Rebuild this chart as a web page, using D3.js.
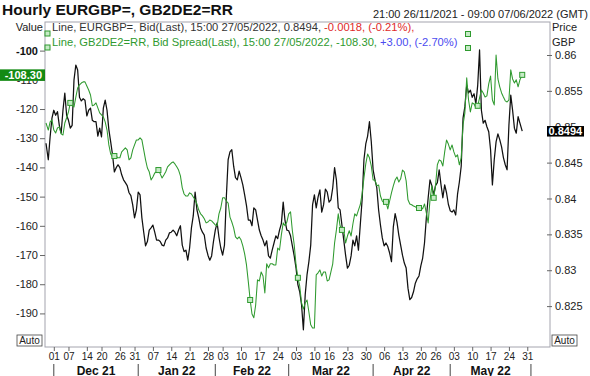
<!DOCTYPE html>
<html><head><meta charset="utf-8">
<script src="https://cdn.jsdelivr.net/npm/d3@7"></script>
<style>body{margin:0;background:#fff}svg{display:block;font-family:Arial,"Liberation Sans",sans-serif}</style>
</head><body><svg id="c" width="590" height="376"></svg>
<script>
// ---------------- DATA ----------------
const rangeStart = "2021-11-26T21:00:00Z";
const rangeEnd   = "2022-06-07T09:00:00Z";
const lastTime   = "2022-05-27T15:00:00Z";
const firstDay = "2021-11-29", lastDay = "2022-05-27";

// Samples: first point, then 00:00 and 12:00 of each trading day, then last point
// EURGBP= Bid (right axis)
const eurgbp = [0.8477,
0.8454,
0.8486,0.8512, 0.8523,0.8516, 0.8521,0.8502, 0.8491,0.8523, 0.8547,0.8516,
0.8509,0.8498, 0.8502,0.8565, 0.8586,0.8579, 0.8541,0.8536, 0.8539,0.8537,
0.8515,0.8523, 0.8526,0.8509, 0.8507,0.8507, 0.8487,0.8498, 0.8486,0.8526,
0.8537,0.8523, 0.8496,0.8479, 0.8461,0.8437, 0.8443,0.8447, 0.8443,0.8433,
0.8426,0.8422, 0.8418,0.8408, 0.8404,0.8391, 0.8373,0.8384, 0.8409,0.8405,
0.8373,0.8353, 0.8334,0.8340, 0.8356,0.8359, 0.8363,0.8353, 0.8342,0.8342,
0.8340,0.8335, 0.8334,0.8342, 0.8345,0.8352, 0.8353,0.8356, 0.8353,0.8348,
0.8356,0.8362, 0.8335,0.8326, 0.8328,0.8314, 0.8331,0.8359, 0.8376,0.8409,
0.8384,0.8373, 0.8359,0.8353, 0.8349,0.8331, 0.8321,0.8314, 0.8320,0.8340,
0.8356,0.8366, 0.8346,0.8331, 0.8321,0.8335, 0.8401,0.8454, 0.8465,0.8468,
0.8445,0.8429, 0.8426,0.8438, 0.8429,0.8419, 0.8405,0.8390, 0.8370,0.8370,
0.8362,0.8387, 0.8384,0.8370, 0.8356,0.8348, 0.8342,0.8334, 0.8341,0.8320,
0.8317,0.8328, 0.8338,0.8348, 0.8344,0.8356, 0.8365,0.8395, 0.8369,0.8356,
0.8355,0.8348, 0.8334,0.8320, 0.8303,0.8280, 0.8270,0.8252, 0.8217,0.8266,
0.8294,0.8312, 0.8335,0.8391, 0.8405,0.8387, 0.8402,0.8412, 0.8381,0.8391,
0.8413,0.8409, 0.8395,0.8398, 0.8415,0.8443, 0.8426,0.8387, 0.8384,0.8363,
0.8342,0.8321, 0.8303,0.8307, 0.8320,0.8342, 0.8334,0.8348, 0.8328,0.8363,
0.8398,0.8454, 0.8476,0.8487, 0.8507,0.8479, 0.8440,0.8426, 0.8415,0.8384,
0.8363,0.8345, 0.8334,0.8338, 0.8333,0.8324, 0.8312,0.8360, 0.8379,0.8367,
0.8349,0.8335, 0.8321,0.8310, 0.8303,0.8275, 0.8259,0.8262, 0.8270,0.8282,
0.8288,0.8292, 0.8306,0.8317, 0.8338,0.8373, 0.8401,0.8426, 0.8418,0.8405,
0.8418,0.8422, 0.8440,0.8419, 0.8401,0.8419, 0.8408,0.8392, 0.8383,0.8381,
0.8384,0.8377, 0.8406,0.8423, 0.8445,0.8512, 0.8528,0.8558, 0.8547,0.8551,
0.8541,0.8546, 0.8532,0.8558, 0.8607,0.8523, 0.8505,0.8509, 0.8500,0.8493,
0.8468,0.8419, 0.8454,0.8479, 0.8490,0.8482, 0.8472,0.8457, 0.8447,0.8440,
0.8502,0.8544, 0.8523,0.8498, 0.8491,0.8514,
0.8505,
0.8494];

// GB2DE2=RR Bid Spread (left axis)
const spread = [-124.8,
-127.2,
-124.4,-123.7, -127.2,-128.2, -126.5,-126.1, -128.5,-128.9, -124.8,-123.0,
-121.0,-117.9, -118.9,-119.3, -115.9,-112.8, -111.7,-111.1, -110.7,-110.7,
-112.1,-113.5, -115.2,-118.9, -118.6,-117.9, -119.6,-121.3, -122.0,-122.7,
-124.4,-127.2, -132.3,-135.4, -136.4,-136.1, -136.1,-136.7, -136.7,-134.7,
-134.0,-133.3, -134.0,-137.4, -136.7,-134.0, -132.3,-130.6, -130.6,-129.9,
-130.6,-134.0, -137.4,-140.2, -141.5,-144.3, -143.3,-141.9, -141.5,-140.9,
-142.2,-143.6, -142.6,-141.5, -139.8,-139.1, -138.5,-138.1, -138.8,-139.8,
-140.9,-142.9, -147.0,-149.1, -149.8,-149.8, -148.7,-149.1, -150.1,-151.1,
-152.5,-154.6, -155.9,-156.6, -157.6,-159.0, -158.7,-158.0, -158.3,-159.0,
-159.7,-160.0, -155.9,-153.9, -150.4,-150.4, -151.5,-152.2, -157.0,-158.7,
-160.7,-163.8, -164.5,-163.8, -164.8,-166.9, -169.6,-173.4, -179.2,-185.4,
-190.2,-191.5, -187.1,-178.5, -178.9,-175.8, -177.2,-183.0, -173.0,-174.4,
-173.0,-173.0, -173.4,-173.4, -167.6,-168.3, -163.1,-159.0, -160.0,-158.7,
-155.9,-155.2, -161.7,-166.5, -173.4,-177.8, -180.6,-186.4, -188.5,-186.4,
-185.4,-189.5, -193.9,-195.0, -195.0,-176.8, -176.1,-175.1, -177.2,-175.8,
-175.8,-178.9, -178.5,-175.8, -173.0,-165.9, -161.4,-155.9, -160.0,-161.4,
-161.4,-165.9, -163.5,-161.7, -163.5,-159.3, -155.9,-156.6, -154.6,-152.8,
-149.1,-143.6, -138.8,-135.4, -136.7,-139.5, -144.3,-144.3, -146.3,-146.0,
-149.8,-151.5, -152.2,-151.8, -154.2,-151.5, -148.7,-146.3, -144.3,-143.3,
-145.0,-143.9, -140.9,-141.5, -144.6,-151.1, -152.5,-152.8, -153.2,-153.5,
-153.9,-153.9, -153.5,-154.2, -152.5,-155.6, -159.0,-151.1, -146.3,-150.4,
-146.3,-139.1, -137.4,-137.8, -139.5,-134.7, -130.6,-132.0, -134.0,-132.3,
-134.7,-136.4, -135.7,-139.1, -136.7,-125.4, -121.3,-109.3, -116.9,-121.0,
-117.9,-118.3, -119.6,-118.9, -116.2,-113.5, -114.5,-115.9, -115.5,-111.4,
-108.7,-116.9, -118.6,-101.5, -109.7,-112.4, -114.5,-115.9, -117.2,-117.6,
-116.9,-106.6, -109.7,-111.1, -110.0,-112.4,
-110.0,
-108.3];
const spreadMarkerIdx = [13,37,61,111,137,161,185,203,211,235,259];

const leftTicks  = [-100,-110,-120,-130,-140,-150,-160,-170,-180,-190];
const rightTicks = [0.825,0.83,0.835,0.84,0.845,0.85,0.855,0.86];
const dayTicks = ["2021-12-01","2021-12-07","2021-12-14","2021-12-20","2021-12-26","2021-12-31",
 "2022-01-07","2022-01-14","2022-01-21","2022-01-28","2022-02-03","2022-02-10","2022-02-17","2022-02-24",
 "2022-03-03","2022-03-10","2022-03-16","2022-03-23","2022-03-30","2022-04-06","2022-04-13","2022-04-20","2022-04-26",
 "2022-05-03","2022-05-10","2022-05-17","2022-05-24","2022-05-31"];
const monthStarts = ["2021-12-01","2022-01-01","2022-02-01","2022-03-01","2022-04-01","2022-05-01","2022-06-01"];
const monthLabels = ["Dec 21","Jan 22","Feb 22","Mar 22","Apr 22","May 22"];

const lastEur = "0.8494", lastSpread = "-108.30";

// ---------------- TRADING-TIME INDEX (weekends removed) ----------------
const origin = new Date("2021-12-01T00:00:00Z");
const isWeekday = d => d.getUTCDay() % 6 !== 0;
function countWeekdays(a, b) {
  if (b >= a) return d3.utcDay.range(a, b).filter(isWeekday).length;
  return -d3.utcDay.range(b, a).filter(isWeekday).length;
}
function tIndex(d) {
  const day = d3.utcDay.floor(d);
  if (!isWeekday(day)) return countWeekdays(origin, d3.utcMonday.ceil(day));
  return countWeekdays(origin, day) + (d - day) / 864e5;
}

const tradingDays = d3.utcDay.range(new Date(firstDay + "T00:00:00Z"),
  d3.utcDay.offset(new Date(lastDay + "T00:00:00Z"), 1)).filter(isWeekday);
const times = [new Date(rangeStart)];
tradingDays.forEach((d, k) => {
  if (k > 0) times.push(d);
  if (k < tradingDays.length - 1) times.push(d3.utcHour.offset(d, 12));
});
times.push(new Date(lastTime));

// ---------------- SCALES ----------------
const P = {l:45, r:550, t:22, b:347};
const x = d3.scaleLinear().domain([tIndex(new Date(rangeStart)), tIndex(new Date(rangeEnd))]).range([46, 547]);
const yL = d3.scaleLinear().domain([-201.5, -90.2]).range([P.b, P.t]);
const yR = d3.scaleLinear().domain([0.8193, 0.8646]).range([P.b, P.t]);
const tx = i => x(tIndex(times[i]));

const svg = d3.select("#c");
const GREEN = "#2f9a2f", TXT = "#222";

svg.append("defs").append("clipPath").attr("id","clip").append("rect")
  .attr("x",P.l).attr("y",P.t).attr("width",P.r-P.l).attr("height",P.b-P.t);

// title
svg.append("text").attr("x",2).attr("y",14.5).attr("font-size",15.5).attr("font-weight","bold")
  .attr("fill","#111").text("Hourly EURGBP=, GB2DE2=RR");
svg.append("text").attr("x",588).attr("y",18).attr("font-size",11).attr("text-anchor","end")
  .attr("fill",TXT).text("21:00 26/11/2021 - 09:00 07/06/2022 (GMT)");

// plot frame
svg.append("rect").attr("x",P.l).attr("y",P.t).attr("width",P.r-P.l).attr("height",P.b-P.t)
  .attr("fill","#fff").attr("stroke","#a4a4ae").attr("stroke-width",1);

svg.append("text").attr("x",43).attr("y",31).attr("font-size",11).attr("text-anchor","end").attr("fill",TXT).text("Value");
svg.append("text").attr("x",552).attr("y",31).attr("font-size",11).attr("fill",TXT).text("Price");
svg.append("text").attr("x",552).attr("y",46).attr("font-size",11).attr("fill",TXT).text("GBP");

// left axis
const gL = svg.append("g").attr("transform",`translate(${P.l},0)`)
  .call(d3.axisLeft(yL).tickValues(leftTicks).tickSize(5).tickPadding(2).tickFormat(d => String(d)));
gL.select(".domain").remove();
gL.selectAll("line").attr("stroke","#666");
gL.selectAll("text").attr("font-size",11).attr("fill",TXT).attr("font-family",null);
gL.selectAll(".tick").filter(d => d === -100).select("text").attr("font-weight","bold").attr("fill","#111");

// right axis
const gR = svg.append("g").attr("transform",`translate(${P.r-3},0)`)
  .call(d3.axisRight(yR).tickValues(rightTicks).tickSize(5).tickPadding(3).tickFormat(d => String(+d.toFixed(3))));
gR.select(".domain").remove();
gR.selectAll("line").attr("stroke","#666");
gR.selectAll("text").attr("font-size",11).attr("fill",TXT).attr("font-family",null);

// bottom axis (day ticks)
const gB = svg.append("g").attr("transform",`translate(0,${P.b})`)
  .call(d3.axisBottom(x).tickValues(dayTicks.map(s => tIndex(new Date(s+"T00:00:00Z"))))
    .tickSize(4).tickPadding(2)
    .tickFormat((d,i) => dayTicks[i].slice(8)));
gB.select(".domain").remove();
gB.selectAll("line").attr("stroke","#666");
gB.selectAll("text").attr("font-size",10).attr("fill",TXT).attr("font-family",null);

// month separators & labels
const mx = monthStarts.map(s => x(tIndex(new Date(s+"T00:00:00Z"))));
svg.append("g").selectAll("line").data(mx).join("line")
  .attr("x1",d=>d).attr("x2",d=>d).attr("y1",364).attr("y2",376).attr("stroke","#444");
svg.append("g").selectAll("text").data(monthLabels).join("text")
  .attr("x",(d,i)=>(mx[i]+mx[i+1])/2).attr("y",374.5).attr("text-anchor","middle")
  .attr("font-size",12).attr("font-weight","bold").attr("fill","#111").text(d=>d);

// Auto boxes
[[17,335],[552,335]].forEach(([bx,by]) => {
  svg.append("rect").attr("x",bx).attr("y",by).attr("width",25).attr("height",11)
    .attr("fill","#fff").attr("stroke","#444").attr("stroke-width",0.8);
  svg.append("text").attr("x",bx+12.5).attr("y",by+9).attr("text-anchor","middle")
    .attr("font-size",10).attr("fill","#222").text("Auto");
});

// series
const plot = svg.append("g").attr("clip-path","url(#clip)");
plot.append("path").datum(eurgbp)
  .attr("d", d3.line().x((d,i)=>tx(i)).y(d=>yR(d)))
  .attr("fill","none").attr("stroke","#111").attr("stroke-width",1.25).attr("stroke-linejoin","round");
plot.append("path").datum(spread)
  .attr("d", d3.line().x((d,i)=>tx(i)).y(d=>yL(d)))
  .attr("fill","none").attr("stroke",GREEN).attr("stroke-width",1.05).attr("stroke-linejoin","round");
plot.append("g").selectAll("rect").data(spreadMarkerIdx).join("rect")
  .attr("x",i=>tx(i)-2.5).attr("y",i=>yL(spread[i])-2.5).attr("width",5).attr("height",5)
  .attr("fill","#c6ebc6").attr("stroke",GREEN).attr("stroke-width",1);

// legend
const lg = svg.append("g").attr("font-size",11.2);
const l1 = lg.append("text").attr("x",52).attr("y",31);
l1.append("tspan").attr("fill","#333").text("Line, EURGBP=, Bid(Last), 15:00 27/05/2022, 0.8494, ");
l1.append("tspan").attr("fill","#e02a2a").text("-0.0018, (-0.21%),");
const l2 = lg.append("text").attr("x",52).attr("y",46);
l2.append("tspan").attr("fill",GREEN).text("Line, GB2DE2=RR, Bid Spread(Last), 15:00 27/05/2022, -108.30, ");
l2.append("tspan").attr("fill","#4b4bf0").text("+3.00, (-2.70%)");
[[47.5,33.5],[47.5,47.5],[468,34],[468,48]].forEach(([sx,sy]) => {
  svg.append("rect").attr("x",sx-2.5).attr("y",sy-2.5).attr("width",5).attr("height",5)
    .attr("fill","#c6ebc6").attr("stroke",GREEN).attr("stroke-width",1);
});

// current value boxes
const yS = yL(+lastSpread);
svg.append("rect").attr("x",0).attr("y",yS-5.5).attr("width",45).attr("height",11.5).attr("fill","#138a13");
svg.append("text").attr("x",42).attr("y",yS+4).attr("text-anchor","end").attr("font-size",11)
  .attr("font-weight","bold").attr("fill","#fff").text(lastSpread);
const yE = yR(+lastEur);
svg.append("rect").attr("x",547).attr("y",yE-5).attr("width",37).attr("height",10.5).attr("fill","#000");
svg.append("text").attr("x",548.5).attr("y",yE+4).attr("font-size",11)
  .attr("font-weight","bold").attr("fill","#fff").text(lastEur);
</script></body></html>
